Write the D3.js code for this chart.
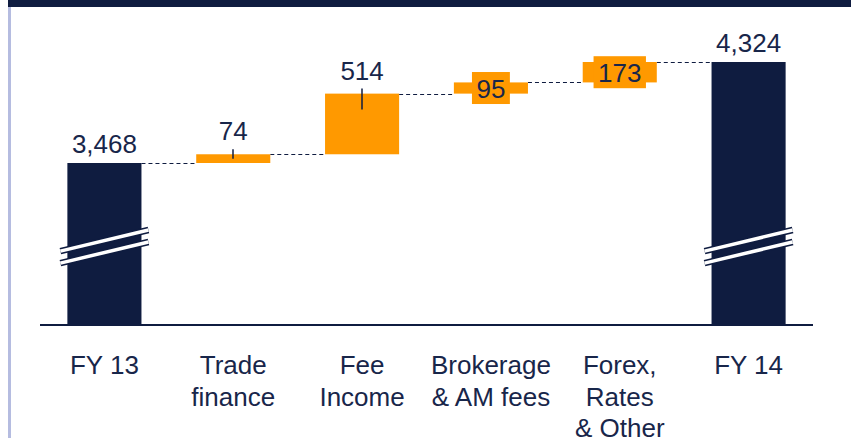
<!DOCTYPE html>
<html>
<head>
<meta charset="utf-8">
<script src="https://cdn.jsdelivr.net/npm/d3@7"></script>
<style>
  html, body { margin: 0; padding: 0; background: #fff; }
  svg { display: block; }
</style>
</head>
<body>
<svg id="chart" width="851" height="438"></svg>
<script>
// chart data
const categories = ["FY 13", "Trade finance", "Fee Income", "Brokerage & AM fees", "Forex, Rates & Other", "FY 14"]
const categoryLines = [["FY 13"], ["Trade", "finance"], ["Fee", "Income"], ["Brokerage", "& AM fees"], ["Forex,", "Rates", "& Other"], ["FY 14"]]
const values = [3468, 74, 514, 95, 173, 4324]
const kinds = ["total", "delta", "delta", "delta", "delta", "total"]
const valueLabels = ["3,468", "74", "514", "95", "173", "4,324"]
const labelInside = [false, false, false, true, true, false]
const axisFloor = 2095   // broken axis, bars start here
const breakValue = 2760  // where the break marks sit on the totals

const navy = "#0f1c40"
const textColor = "#18264a"
const orange = "#ff9900"
const font = "'Liberation Sans', Arial, sans-serif"
const fontSize = "26px"

const svg = d3.select("#chart")

// header band + left rule
svg.append("rect").attr("x", 8).attr("y", 0).attr("width", 843).attr("height", 7).attr("fill", navy)
svg.append("rect").attr("x", 8).attr("y", 7).attr("width", 3).attr("height", 431).attr("fill", "#b5bce0")

const x = d3.scaleBand().domain(categories).range([40, 813]).paddingInner(0.425).paddingOuter(0.2125)
const y = d3.scaleLinear().domain([axisFloor, 4324]).range([325, 62])

// build waterfall steps
let running = 0
const steps = categories.map(function (c, i) {
    let start, end
    if (kinds[i] == "total") { start = axisFloor; end = values[i]; running = values[i] }
    else { start = running; end = running + values[i]; running = end }
    return { cat: c, i: i, start: start, end: end, kind: kinds[i] }
})

const g = svg.append("g")

// dashed connectors
g.selectAll(".conn")
    .data(steps.slice(0, -1))
    .enter()
    .append("line")
    .attr("x1", d => x(d.cat) + x.bandwidth())
    .attr("x2", d => x(categories[d.i + 1]))
    .attr("y1", d => Math.round(y(d.end)) + 0.5)
    .attr("y2", d => Math.round(y(d.end)) + 0.5)
    .attr("stroke", navy)
    .attr("stroke-width", 1)
    .attr("stroke-dasharray", "4,3")

// bars
g.selectAll(".bar")
    .data(steps)
    .enter()
    .append("rect")
    .attr("x", d => x(d.cat))
    .attr("width", x.bandwidth())
    .attr("y", d => y(Math.max(d.start, d.end)))
    .attr("height", d => Math.abs(y(d.start) - y(d.end)))
    .attr("fill", d => d.kind == "total" ? navy : orange)

// break marks on the totals
const totals = steps.filter(d => d.kind == "total")
totals.forEach(function (d) {
    const cx = x(d.cat) + x.bandwidth() / 2
    const cy = y(breakValue)
    const half = x.bandwidth() / 2 + 7
    const slope = 0.24
    ;[-6, 6].forEach(function (off) {
        const pts = [cx - half, cy + off + half * slope, cx + half, cy + off - half * slope]
        g.append("line").attr("x1", pts[0]).attr("y1", pts[1]).attr("x2", pts[2]).attr("y2", pts[3])
            .attr("stroke", navy).attr("stroke-width", 6.5)
        g.append("line").attr("x1", pts[0]).attr("y1", pts[1]).attr("x2", pts[2]).attr("y2", pts[3])
            .attr("stroke", "#fff").attr("stroke-width", 3.5)
    })
})

// baseline
g.append("line").attr("x1", 40).attr("x2", 813).attr("y1", 325).attr("y2", 325)
    .attr("stroke", navy).attr("stroke-width", 2)

// tick marks on the orange bars with labels above
steps.filter(d => d.kind == "delta" && !labelInside[d.i]).forEach(function (d) {
    const top = y(d.end), h = y(d.start) - y(d.end)
    const cx = Math.round(x(d.cat) + x.bandwidth() / 2)
    g.append("line")
        .attr("x1", cx).attr("x2", cx)
        .attr("y1", top - 5).attr("y2", top + Math.min(16, h / 2))
        .attr("stroke", navy).attr("stroke-width", 1.5)
})

// value labels
steps.forEach(function (d) {
    const cx = x(d.cat) + x.bandwidth() / 2
    if (labelInside[d.i]) {
        const cy = (y(d.start) + y(d.end)) / 2
        const box = g.append("rect").attr("fill", orange)
        const t = g.append("text")
            .attr("x", cx).attr("y", cy + 9.5)
            .attr("text-anchor", "middle")
            .attr("font-family", font).attr("font-size", fontSize)
            .attr("fill", textColor)
            .text(valueLabels[d.i])
        const w = t.node().getComputedTextLength() + 9
        box.attr("x", cx - w / 2).attr("y", cy - 16).attr("width", w).attr("height", 32)
    } else {
        const gap = d.kind == "total" ? 10 : 14
        g.append("text")
            .attr("x", cx).attr("y", y(d.end) - gap)
            .attr("text-anchor", "middle")
            .attr("font-family", font).attr("font-size", fontSize)
            .attr("fill", textColor)
            .text(valueLabels[d.i])
    }
})

// category labels
const cats = g.selectAll(".cat")
    .data(steps)
    .enter()
    .append("text")
    .attr("text-anchor", "middle")
    .attr("font-family", font).attr("font-size", fontSize)
    .attr("fill", textColor)
cats.each(function (d) {
    const el = d3.select(this)
    categoryLines[d.i].forEach(function (line, k) {
        el.append("tspan")
            .attr("x", x(d.cat) + x.bandwidth() / 2)
            .attr("y", 374 + k * 31.5)
            .text(line)
    })
})
</script>
</body>
</html>
